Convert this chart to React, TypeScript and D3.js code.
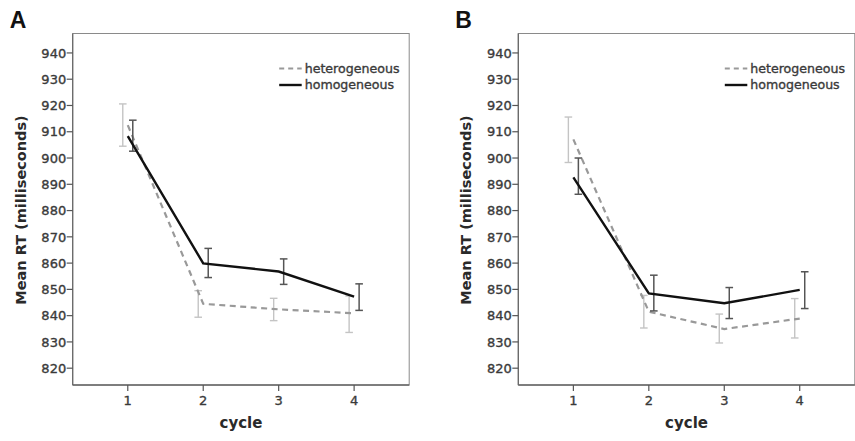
import React from 'react'
import * as d3 from 'd3'

// values (mean RT in ms, error bar ends)
const cycles = [1, 2, 3, 4]
const yTicks = [820, 830, 840, 850, 860, 870, 880, 890, 900, 910, 920, 930, 940]
const seriesNames = ['heterogeneous', 'homogeneous']

const hetMeanA = [912.5, 844.5, 842.4, 840.9]
const hetLowA = [904.5, 839.4, 838.1, 833.6]
const hetHighA = [920.6, 849.5, 846.6, 847.5]
const homMeanA = [908.3, 859.9, 856.8, 847.2]
const homLowA = [902.6, 854.5, 851.9, 842.0]
const homHighA = [914.4, 865.6, 861.6, 852.1]

const hetMeanB = [907.1, 841.5, 834.9, 838.9]
const hetLowB = [898.3, 835.3, 829.6, 831.5]
const hetHighB = [915.6, 847.7, 840.6, 846.5]
const homMeanB = [892.6, 848.5, 844.7, 849.8]
const homLowB = [886.2, 841.8, 838.9, 842.7]
const homHighB = [900.0, 855.4, 850.7, 856.7]

const panels = [
  { label: 'A', left: 72.7, het: [hetMeanA, hetLowA, hetHighA], hom: [homMeanA, homLowA, homHighA] },
  { label: 'B', left: 518.3, het: [hetMeanB, hetLowB, hetHighB], hom: [homMeanB, homLowB, homHighB] }
]

const width = 855
const height = 441
const plotW = 336.5
const top = 33.5
const bottom = 385
const font = '"DejaVu Sans", sans-serif'

const xScale = d3.scalePoint<number>()
  .domain(cycles)
  .range([0, plotW])
  .padding(0.73)

const yScale = d3.scaleLinear()
  .domain([813.6, 947.4])
  .range([bottom, top])

const line = d3.line<number>()
  .x((d, i) => xScale(cycles[i]) as number)
  .y(d => yScale(d))

function ErrorBars({ low, high, dx, color, width: sw }: any) {
  return (
    <g stroke={color} strokeWidth={sw} fill='none'>
      {cycles.map((c, i) => {
        const x = (xScale(c) as number) + dx
        return (
          <g key={c}>
            <line x1={x} x2={x} y1={yScale(low[i])} y2={yScale(high[i])} />
            <line x1={x - 3.8} x2={x + 3.8} y1={yScale(low[i])} y2={yScale(low[i])} />
            <line x1={x - 3.8} x2={x + 3.8} y1={yScale(high[i])} y2={yScale(high[i])} />
          </g>
        )
      })}
    </g>
  )
}

function Panel({ p }: any) {
  const [hetMean, hetLow, hetHigh] = p.het
  const [homMean, homLow, homHigh] = p.hom
  return (
    <g transform={`translate(${p.left},0)`}>
      <text x={-63} y={28} fontFamily='"Liberation Sans", Arial, sans-serif'
        fontWeight='bold' fontSize={23} fill='#111'>{p.label}</text>
      <rect x={0} y={top} width={plotW} height={bottom - top} fill='none' stroke='#8a8a8a' strokeWidth={1} />
      <line x1={0} x2={plotW} y1={bottom} y2={bottom} stroke='#666' strokeWidth={1.4} />
      <line x1={0} x2={0} y1={top} y2={bottom} stroke='#666' strokeWidth={1.2} />
      {yTicks.map(t => (
        <g key={t}>
          <line x1={-6} x2={0} y1={yScale(t)} y2={yScale(t)} stroke='#555' strokeWidth={1.2} />
          <text x={-6.5} y={yScale(t)} dy='0.36em' textAnchor='end' fontFamily={font}
            fontSize={13} fill='#3a3a3a' stroke='#3a3a3a' strokeWidth={0.35}>{t}</text>
        </g>
      ))}
      {cycles.map(c => (
        <g key={c}>
          <line x1={xScale(c)} x2={xScale(c)} y1={bottom} y2={bottom + 6} stroke='#555' strokeWidth={1.2} />
          <text x={xScale(c)} y={405} textAnchor='middle' fontFamily={font}
            fontSize={13} fill='#3a3a3a' stroke='#3a3a3a' strokeWidth={0.35}>{c}</text>
        </g>
      ))}
      <text x={plotW / 2} y={428} textAnchor='middle' fontFamily={font} fontWeight='bold'
        fontSize={15} fill='#2a2a2a'>cycle</text>
      <text transform={`translate(${-47},${210}) rotate(-90)`} textAnchor='middle' fontFamily={font}
        fontWeight='bold' fontSize={14.5} fill='#2a2a2a'>Mean RT (milliseconds)</text>

      <ErrorBars low={hetLow} high={hetHigh} dx={-5} color='#c4c4c4' width={1.4} />
      <path d={line(hetMean) as string} fill='none' stroke='#999' strokeWidth={2.2} strokeDasharray='6,4.5' />
      <ErrorBars low={homLow} high={homHigh} dx={5} color='#555' width={1.5} />
      <path d={line(homMean) as string} fill='none' stroke='#111' strokeWidth={2.4} />

      <g fontFamily={font} fontSize={12.6} fill='#3a3a3a'>
        <line x1={206.5} x2={229} y1={68.5} y2={68.5} stroke='#999' strokeWidth={2} strokeDasharray='5,4' />
        <text x={232} y={68.5} dy='0.35em' stroke='#3a3a3a' strokeWidth={0.35}>{seriesNames[0]}</text>
        <line x1={206.5} x2={229} y1={85} y2={85} stroke='#111' strokeWidth={2.4} />
        <text x={232} y={85} dy='0.35em' stroke='#3a3a3a' strokeWidth={0.35}>{seriesNames[1]}</text>
      </g>
    </g>
  )
}

export default function App() {
  return (
    <svg width={width} height={height} style={{ position: 'absolute', left: 0, top: 0, background: '#fff' }}>
      {panels.map(p => <Panel key={p.label} p={p} />)}
    </svg>
  )
}
